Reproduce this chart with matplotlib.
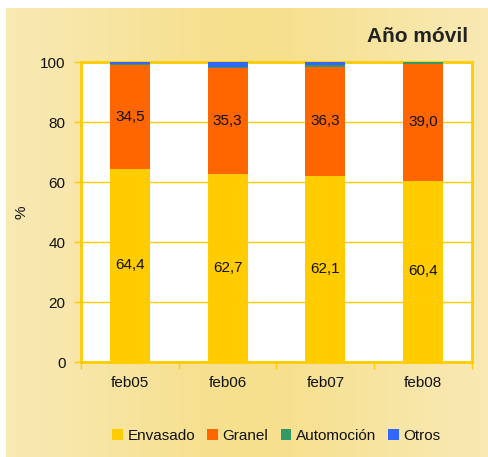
from matplotlib import pyplot as plt
import numpy as np

plt.rcParams['font.family'] = ['Liberation Sans', 'DejaVu Sans']

periodos = ['feb05', 'feb06', 'feb07', 'feb08']
envasado = [64.4, 62.7, 62.1, 60.4]
granel = [34.5, 35.3, 36.3, 39.0]
automocion = [0.4, 0.5, 0.6, 0.5]
otros = [0.7, 1.5, 1.0, 0.1]

series = [('Envasado', envasado, '#FFCC00'),
          ('Granel', granel, '#FF6600'),
          ('Automoción', automocion, '#339966'),
          ('Otros', otros, '#3366FF')]

W, H = 489, 457
fig = plt.figure(figsize=(W / 100, H / 100), dpi=100)
fig.patch.set_facecolor('white')

# fondo crema con degradado horizontal
bg = fig.add_axes([6 / W, 0, 1 - 6 / W, 1 - 8 / H], zorder=-10)
xs = np.linspace(0, 1, 300)
w = np.exp(-((xs - 0.5) / 0.35) ** 2)
c0 = np.array([249, 234, 184]) / 255
c1 = np.array([246, 224, 142]) / 255
grad = c0[None, :] * (1 - w[:, None]) + c1[None, :] * w[:, None]
bg.imshow(grad[None, :, :], aspect='auto', extent=[0, 1, 0, 1])
bg.axis('off')

ax = fig.add_axes([81 / W, 1 - 362 / H, (472 - 81) / W, (362 - 62) / H])
ax.set_facecolor('white')
x = np.arange(len(periodos))
bottom = np.zeros(len(periodos))
for name, vals, col in series:
    ax.bar(x, vals, 0.41, bottom=bottom, color=col, label=name, zorder=3)
    if name in ('Envasado', 'Granel'):
        for xi, b, v in zip(x, bottom, vals):
            ax.text(xi, b + v / 2, f'{v:.1f}'.replace('.', ','),
                    ha='center', va='center', fontsize=11, color='#111111', zorder=4)
    bottom += np.array(vals)

ax.set_xlim(-0.5, 3.5)
ax.set_ylim(0, 100)
ax.set_yticks(np.arange(0, 101, 20))
ax.set_xticks(x)
ax.set_xticklabels(periodos)
ax.set_xticks(np.arange(-0.5, 3.6, 1), minor=True)
ax.tick_params(axis='x', which='major', length=0, pad=10, labelsize=11,
               labelcolor='#111111')
ax.tick_params(axis='x', which='minor', length=5, color='#FFCC00', width=1)
ax.tick_params(axis='y', length=5, color='#FFCC00', width=1, labelsize=11,
               pad=6, labelcolor='#111111')
ax.yaxis.grid(True, color='#FFCC00', linewidth=1, zorder=1)
ax.set_axisbelow(True)
for s in ax.spines.values():
    s.set_color('#FFCC00')
    s.set_linewidth(2)

fig.text(22 / W, 1 - 212 / H, '%', rotation=90, ha='center', va='center',
         fontsize=11, color='#111111')

fig.text(468 / W, 1 - 37 / H, 'Año móvil', ha='right', va='center',
         fontsize=15, fontweight='bold', color='#222222')

ax.legend(loc='center', bbox_to_anchor=(0.5, (362 - 436) / 300), ncol=4,
          frameon=False, fontsize=11, handlelength=0.7, handleheight=0.7,
          handletextpad=0.3, columnspacing=0.8, labelcolor='#111111')

fig.savefig('out.png', dpi=100)
